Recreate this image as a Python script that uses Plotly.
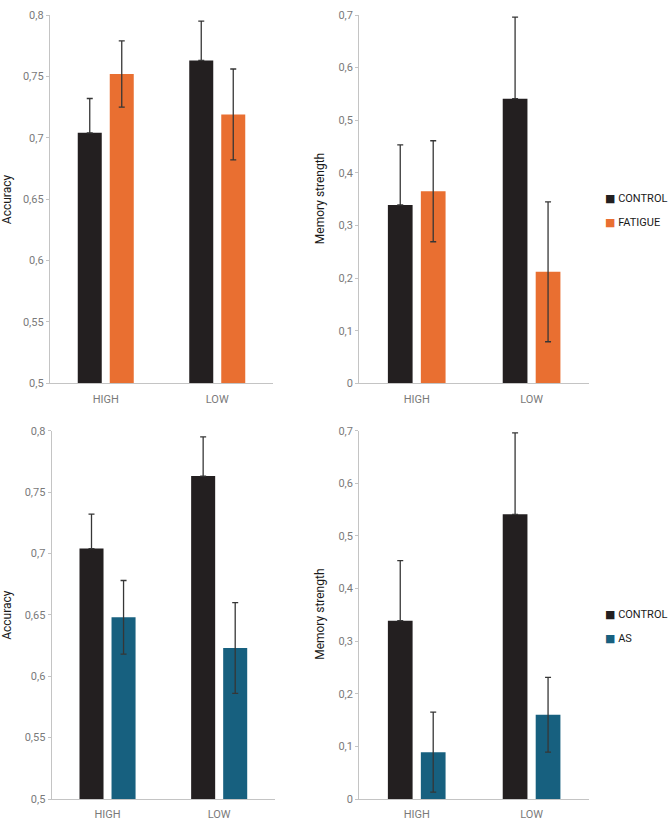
import plotly.graph_objects as go

categories = ["HIGH", "LOW"]

# Top row: CONTROL vs FATIGUE
acc_control = [0.704, 0.763]
acc_control_err = [0.028, 0.032]
acc_fatigue = [0.752, 0.719]
acc_fatigue_err = [0.027, 0.037]

mem_control = [0.339, 0.541]
mem_control_err = [0.114, 0.155]
mem_fatigue = [0.365, 0.212]
mem_fatigue_err = [0.096, 0.133]

# Bottom row: CONTROL vs AS
acc_as = [0.648, 0.623]
acc_as_err = [0.030, 0.037]
mem_as = [0.089, 0.160]
mem_as_err = [0.076, 0.071]

acc_ticks = [0.5, 0.55, 0.6, 0.65, 0.7, 0.75, 0.8]
acc_ticktext = ["0,5", "0,55", "0,6", "0,65", "0,7", "0,75", "0,8"]
mem_ticks = [0, 0.1, 0.2, 0.3, 0.4, 0.5, 0.6, 0.7]
mem_ticktext = ["0", "0,1", "0,2", "0,3", "0,4", "0,5", "0,6", "0,7"]

BLACK = "#231f20"
ORANGE = "#e96f31"
BLUE = "#17607f"
ERR = "#363636"

W, H = 670, 820

fig = go.Figure()

def add_bar(name, y, err, color, xa, ya, hide_lower):
    fig.add_trace(go.Bar(
        x=categories, y=y, name=name, marker=dict(color=color, line=dict(width=0)),
        error_y=dict(type="data", array=err,
                     arrayminus=[0] * len(err) if hide_lower else err,
                     symmetric=False, visible=True, color=ERR, thickness=1.3, width=3),
        xaxis=xa, yaxis=ya, showlegend=False, offsetgroup=name,
    ))

add_bar("CONTROL", acc_control, acc_control_err, BLACK, "x", "y", True)
add_bar("FATIGUE", acc_fatigue, acc_fatigue_err, ORANGE, "x", "y", False)
add_bar("CONTROL", mem_control, mem_control_err, BLACK, "x2", "y2", True)
add_bar("FATIGUE", mem_fatigue, mem_fatigue_err, ORANGE, "x2", "y2", False)
add_bar("CONTROL", acc_control, acc_control_err, BLACK, "x3", "y3", True)
add_bar("AS", acc_as, acc_as_err, BLUE, "x3", "y3", False)
add_bar("CONTROL", mem_control, mem_control_err, BLACK, "x4", "y4", True)
add_bar("AS", mem_as, mem_as_err, BLUE, "x4", "y4", False)

# legend entries (small square glyph close to the label, like the original)
def add_legend_entry(name, color, legend):
    fig.add_trace(go.Scatter(
        x=[None], y=[None], mode="markers",
        marker=dict(color="rgba(0,0,0,0)", size=0, line=dict(width=0)),
        name=f"<span style='color:{color};font-size:11px;font-family:DejaVu Sans'>■</span> {name}",
        legend=legend, legendgroup=legend + name, showlegend=True,
        xaxis="x2", yaxis="y2", hoverinfo="skip",
    ))

add_legend_entry("CONTROL", BLACK, "legend")
add_legend_entry("FATIGUE", ORANGE, "legend")
add_legend_entry("CONTROL", BLACK, "legend2")
add_legend_entry("AS", BLUE, "legend2")

def px_x(a, b):
    return [a / W, b / W]

def px_y(top, bottom):
    return [(H - bottom) / H, (H - top) / H]

font = "Roboto, Arial, sans-serif"
tickfont = dict(family=font, size=11, color="#7a7a7a")

def xaxis(domain, anchor):
    return dict(domain=domain, anchor=anchor, range=[-0.5, 1.5], showline=True, linecolor="#c4c4c4",
                linewidth=1.3, ticks="outside", ticklen=5, tickcolor="rgba(0,0,0,0)",
                tickfont=tickfont, showgrid=False, zeroline=False, automargin=False, fixedrange=True)

def yaxis(domain, anchor, rng, tv, tt):
    return dict(domain=domain, anchor=anchor, range=rng, tickvals=tv, ticktext=tt,
                showline=True, linecolor="#c4c4c4", linewidth=1.3, ticks="outside", ticklen=3,
                tickcolor="#c4c4c4", tickfont=tickfont, showgrid=False, zeroline=False,
                automargin=False, fixedrange=True)

top_y = px_y(15, 383.3)
bot_y = px_y(430.7, 799)

titles = [
    ("Accuracy", 7, top_y),
    ("Memory strength", 320, top_y),
    ("Accuracy", 7, bot_y),
    ("Memory strength", 320, bot_y),
]
annotations = [
    dict(text=t, x=xp / W, y=(d[0] + d[1]) / 2, xref="paper", yref="paper", textangle=-90,
         showarrow=False, xanchor="center", yanchor="middle",
         font=dict(family=font, size=12, color="#1a1a1a"))
    for t, xp, d in titles
]

legend_style = dict(xanchor="left", yanchor="top", font=dict(family=font, size=11, color="#1a1a1a"),
                    bgcolor="rgba(0,0,0,0)", itemwidth=30, tracegroupgap=5, borderwidth=0)

fig.update_layout(
    width=W, height=H,
    margin=dict(l=0, r=0, t=0, b=0, autoexpand=False),
    paper_bgcolor="white", plot_bgcolor="white",
    barmode="group", bargap=0.426, bargroupgap=0.25,
    font=dict(family=font, size=12, color="#1a1a1a"),
    xaxis=xaxis(px_x(50, 273), "y"),
    yaxis=yaxis(top_y, "x", [0.5, 0.8], acc_ticks, acc_ticktext),
    xaxis2=xaxis(px_x(359.3, 589), "y2"),
    yaxis2=yaxis(top_y, "x2", [0, 0.7], mem_ticks, mem_ticktext),
    xaxis3=xaxis(px_x(51.7, 275), "y3"),
    yaxis3=yaxis(bot_y, "x3", [0.5, 0.8], acc_ticks, acc_ticktext),
    xaxis4=xaxis(px_x(359.3, 589), "y4"),
    yaxis4=yaxis(bot_y, "x4", [0, 0.7], mem_ticks, mem_ticktext),
    legend=dict(x=565 / W, y=(H - 183) / H, **legend_style),
    legend2=dict(x=565 / W, y=(H - 599) / H, **legend_style),
    annotations=annotations,
)

fig.write_html("out.html")
